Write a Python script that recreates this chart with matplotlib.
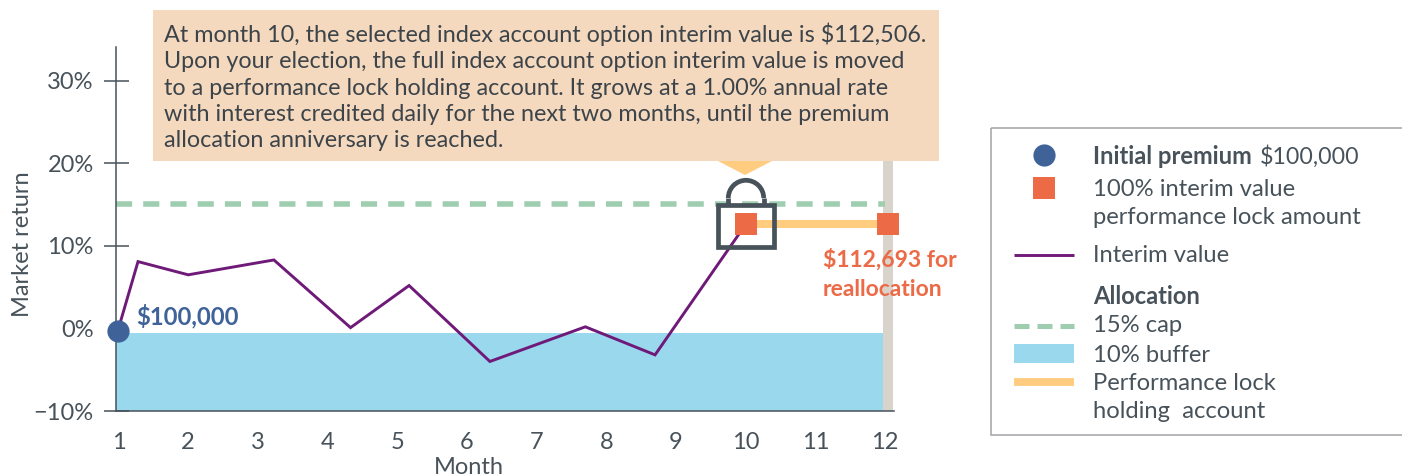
import matplotlib
matplotlib.use("Agg")
import matplotlib.pyplot as plt
from matplotlib.patches import Rectangle, Polygon, Arc
from matplotlib.lines import Line2D

plt.rcParams['font.family'] = ['Lato', 'DejaVu Sans']

W, H = 1402, 476

months = [1, 2, 3, 4, 5, 6, 7, 8, 9, 10, 11, 12]
yticks = [-10, 0, 10, 20, 30]
ytick_labels = ['\u221210%', '0%', '10%', '20%', '30%']

interim_x = [1, 1.28, 2, 3.23, 4.33, 5.17, 6.33, 7.7, 8.7, 10]
interim_y = [0, 8.1, 6.5, 8.3, 0.1, 5.2, -4, 0.2, -3.2, 12.6]
cap = 15.1
buffer_top = -0.6
buffer_bottom = -10
lock_x = [10, 12.05]
lock_y = [12.6, 12.6]
premium_x = 1
premium_y = -0.3
bar_x = 12.045
bar_top = 21

callout = ("At month 10, the selected index account option interim value is $112,506.\n"
           "Upon your election, the full index account option interim value is moved\n"
           "to a performance lock holding account. It grows at a 1.00% annual rate\n"
           "with interest credited daily for the next two months, until the premium\n"
           "allocation anniversary is reached.")

DARK = '#47525A'
BLUE = '#3F6399'
ORANGE = '#EC6A45'
PURPLE = '#6F1A78'
GREEN = '#9FCDB0'
SKY = '#9AD8EE'
GOLD = '#FFCC80'
PEACH = '#F5D9BE'
GREY = '#D8D4CC'

fig = plt.figure(figsize=(W / 100, H / 100), dpi=100)

# main axes, placed by pixel
left, right, top, bottom = 116, 894, 47, 411
ax = fig.add_axes([left / W, 1 - bottom / H, (right - left) / W, (bottom - top) / H])
ax.set_xlim(1 - 2.5 / 69.7, 12 + 9 / 69.7)
ax.set_ylim(-10, 34.1)

ax.fill_between([ax.get_xlim()[0], 12], buffer_bottom, buffer_top, color=SKY, lw=0, zorder=1)
ax.bar(bar_x, bar_top - buffer_bottom, width=0.153, bottom=buffer_bottom, color=GREY, zorder=1)
ax.plot([ax.get_xlim()[0], 12], [cap, cap], color=GREEN, lw=4, dashes=(2.9, 2), zorder=2)
ax.plot(lock_x, lock_y, color=GOLD, lw=5.8, solid_capstyle='butt', zorder=3)
ax.plot(interim_x, interim_y, color=PURPLE, lw=2.1, zorder=4, solid_joinstyle='miter')
ax.plot(lock_x, lock_y, ls='none', marker='s', ms=15.8, color=ORANGE, mew=0, zorder=6, clip_on=False)
ax.plot([premium_x], [premium_y], ls='none', marker='o', ms=16, color=BLUE, mew=0, zorder=6, clip_on=False)

for s in ['top', 'right']:
    ax.spines[s].set_visible(False)
for s in ['left', 'bottom']:
    ax.spines[s].set_color(DARK)
    ax.spines[s].set_linewidth(1.1)
ax.set_xticks(months)
ax.set_xticklabels(months)
ax.set_yticks(yticks)
ax.set_yticklabels(ytick_labels)
ax.tick_params(axis='x', length=0, labelsize=17, labelcolor=DARK, pad=15)
ax.tick_params(axis='y', direction='inout', length=18, width=1.1, color=DARK,
               labelsize=17, labelcolor=DARK, pad=7)
# no tick mark at the 0% level
ax.yaxis.get_major_ticks()[1].tick1line.set_visible(False)

ax.set_xlabel('Month', fontsize=17, color=DARK)
ax.set_ylabel('Market return', fontsize=17, color=DARK)
ax.xaxis.set_label_coords((469 - left) / (right - left), -(457 - bottom) / (bottom - top))
ax.yaxis.set_label_coords((33 - left) / (right - left), (bottom - 244) / (bottom - top))

ax.text(1.26, 1.45, '$100,000', color=BLUE, fontsize=17.2, fontweight='bold', va='center')
ax.text(11.11, 9.65, '$112,693 for\nreallocation', color=ORANGE, fontsize=16.5, fontweight='bold',
        va='top', linespacing=1.45, zorder=7)

# overlay in pixel coordinates for callout, lock and legend
ov = fig.add_axes([0, 0, 1, 1], zorder=5)
ov.set_xlim(0, W)
ov.set_ylim(H, 0)
ov.axis('off')
ov.patch.set_alpha(0)

ov.add_patch(Rectangle((153, 10), 786, 151, color=PEACH, lw=0))
ov.text(164, 87, callout, fontsize=16.8, color='#3C444A', va='center', linespacing=1.31)
ov.add_patch(Polygon([(718, 161), (772, 161), (745, 175)], color=GOLD, lw=0))

ov.add_patch(Rectangle((718.3, 205.3), 55.4, 41.4, fill=False, ec=DARK, lw=3.4, joinstyle='miter'))
ov.add_patch(Arc((746, 198), 35.4, 35.4, theta1=180, theta2=360, ec=DARK, lw=3.4))
ov.plot([728.3, 728.3], [197.5, 205], color=DARK, lw=3.4, solid_capstyle='butt')
ov.plot([763.7, 763.7], [197.5, 205], color=DARK, lw=3.4, solid_capstyle='butt')

# legend
ov.add_patch(Rectangle((990.5, 128), 420, 307, fill=False, ec='#A3A3A8', lw=1.1))
ov.plot([1044], [155], marker='o', ms=16, color=BLUE, mew=0, ls='none')
ov.plot([1044], [188], marker='s', ms=15.8, color=ORANGE, mew=0, ls='none')
ov.add_line(Line2D([1014, 1074], [255, 255], color=PURPLE, lw=2.1, solid_capstyle='butt'))
ov.add_line(Line2D([1014, 1074], [325.7, 325.7], color=GREEN, lw=3.6, dashes=(3, 1.6)))
ov.add_patch(Rectangle((1014, 344), 60, 19, color=SKY, lw=0))
ov.add_line(Line2D([1014, 1074], [381.7, 381.7], color=GOLD, lw=5.6, solid_capstyle='butt'))

TX = 1093
fs = 17.1
ov.text(TX, 157, 'Initial premium', fontsize=fs, color=DARK, fontweight='bold', va='center')
ov.text(1260, 157, '$100,000', fontsize=16.7, color=DARK, va='center')
ov.text(TX, 189, '100% interim value', fontsize=fs, color=DARK, va='center')
ov.text(TX, 218, 'performance lock amount', fontsize=fs, color=DARK, va='center')
ov.text(TX, 256, 'Interim value', fontsize=fs, color=DARK, va='center')
ov.text(TX, 297, 'Allocation', fontsize=fs, color=DARK, fontweight='bold', va='center')
ov.text(TX, 326, '15% cap', fontsize=fs, color=DARK, va='center')
ov.text(TX, 355, '10% buffer', fontsize=fs, color=DARK, va='center')
ov.text(TX, 383, 'Performance lock', fontsize=fs, color=DARK, va='center')
ov.text(TX, 411, 'holding  account', fontsize=fs, color=DARK, va='center')

fig.savefig('out.png', dpi=100)
